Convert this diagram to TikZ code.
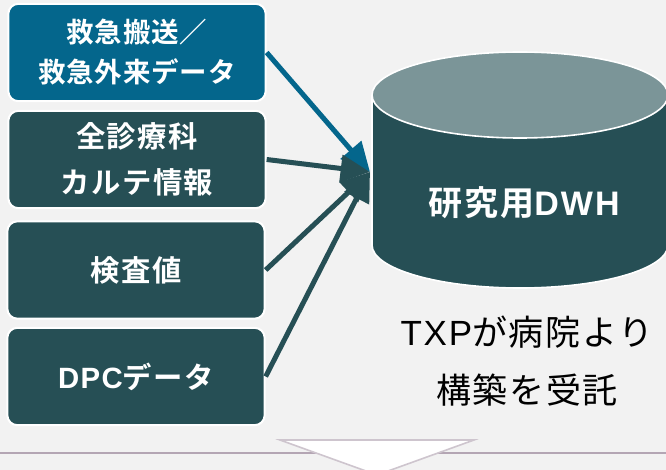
\documentclass[tikz,border=0pt]{standalone}
\usepackage{fontspec}
\setmainfont{Liberation Sans}
\newfontfamily\jpA[LetterSpace=3,BoldFont={Noto Sans CJK JP Bold}]{Noto Sans CJK JP}
\newfontfamily\jpB[LetterSpace=5,BoldFont={Noto Sans CJK JP Bold}]{Noto Sans CJK JP}
\newfontfamily\jpC[LetterSpace=6,BoldFont={Noto Sans CJK JP Bold}]{Noto Sans CJK JP}
\newfontfamily\latB[LetterSpace=5]{Liberation Sans}
\newfontfamily\latC[LetterSpace=6]{Liberation Sans}
\usetikzlibrary{arrows.meta}
\definecolor{bgC}{HTML}{F2F2F2}
\definecolor{blueC}{HTML}{04668C}
\definecolor{dkC}{HTML}{264F55}
\definecolor{topC}{HTML}{7B9598}
\definecolor{lineC}{HTML}{B4A6B4}
\definecolor{triC}{HTML}{CEC5CE}
\tikzset{
  srcbox/.style={draw=white, line width=1.5pt, rounded corners=7.5pt,
    minimum width=193pt, minimum height=73pt, inner sep=0pt,
    text=white, align=center},
  boxfont/.style={font=\jpB\bfseries\fontsize{22}{35}\selectfont},
  boxfontA/.style={font=\jpA\bfseries\fontsize{20.6}{30}\selectfont},
  feed/.style={draw=dkC, line width=3.75pt, -{Triangle[length=22pt,width=20pt]}},
  feedblue/.style={draw=blueC, line width=3.75pt, -{Triangle[length=22pt,width=20pt]}},
}
\begin{document}
\begin{tikzpicture}[x=0.75pt,y=-0.75pt]
\fill[bgC] (0,0) rectangle (666,470);
\useasboundingbox (0,0) rectangle (666,470);
% source boxes
\node[srcbox, boxfontA, fill=blueC] (b1) at (137,52.5) {救急搬送／\\救急外来データ};
\node[srcbox, boxfont, fill=dkC] (b2) at (137,159.5) {全診療科\\カルテ情報};
\node[srcbox, boxfont, fill=dkC] (b3) at (136,270) {検査値};
\node[srcbox, boxfont, fill=dkC] (b4) at (136,376.5) {{\latB\bfseries DPC}データ};
% connectors
\coordinate (dwhin) at (370,172);
\draw[feedblue] (b1.east) -- (dwhin);
\draw[feed] (b2.east) -- (dwhin);
\draw[feed] (b3.east) -- (dwhin);
\draw[feed] (b4.east) -- (dwhin);
% cylinder
\fill[dkC] (372,95) -- (372,245) arc[start angle=180,end angle=0,x radius=148,y radius=43] -- (668,95) -- cycle;
\draw[white, line width=1.2pt] (372,95) -- (372,245) arc[start angle=180,end angle=0,x radius=148,y radius=43] -- (668,95);
\filldraw[fill=topC, draw=white, line width=1.2pt] (520,95) ellipse[x radius=148, y radius=43];
\node[text=white, font=\jpC\bfseries\fontsize{25.5}{30}\selectfont, inner sep=0pt] (dwh) at (524,203) {研究用{\latC\bfseries DWH}};
\node[text=black, align=center, font=\jpB\fontsize{26.25}{43}\selectfont, inner sep=0pt] (txp) at (527,361) {{\latB TXP}が病院より\\構築を受託};
% bottom
\draw[lineC, line width=1.5pt] (0,453) -- (666,453);
\filldraw[fill=white, draw=triC, line width=1.2pt] (280,440) -- (474,440) -- (377,475) -- cycle;
\end{tikzpicture}
\end{document}
